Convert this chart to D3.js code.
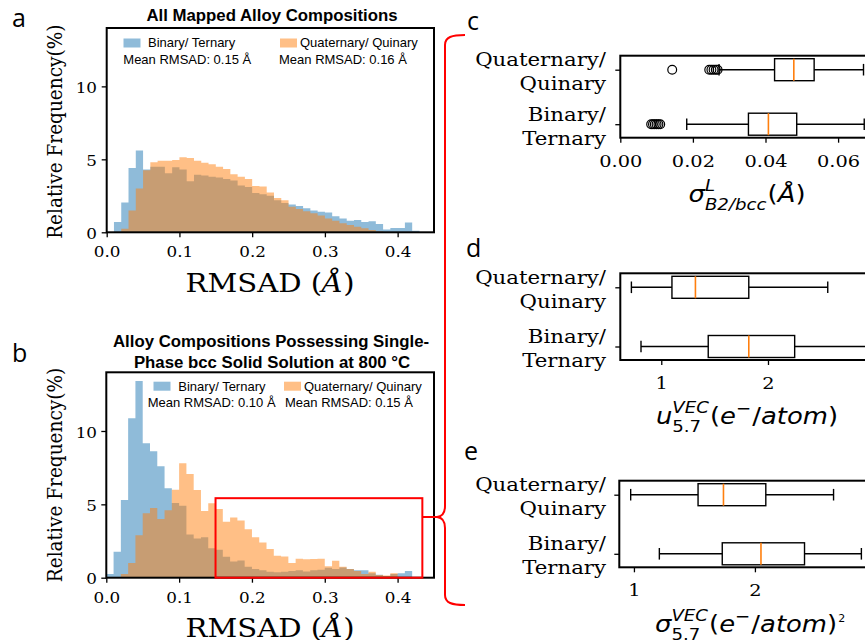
<!DOCTYPE html>
<html><head><meta charset="utf-8">
<script src="https://cdn.jsdelivr.net/npm/d3@7"></script>
<style>body{margin:0;background:#fff} svg{display:block}</style>
</head><body>
<svg id="chart" width="865" height="640"></svg>
<script>
// ---------------- DATA ----------------
const binStarts = [0.00,0.01,0.02,0.03,0.04,0.05,0.06,0.07,0.08,0.09,0.10,0.11,0.12,0.13,0.14,0.15,0.16,0.17,0.18,0.19,0.20,0.21,0.22,0.23,0.24,0.25,0.26,0.27,0.28,0.29,0.30,0.31,0.32,0.33,0.34,0.35,0.36,0.37,0.38,0.39,0.40,0.41,0.42];
const binWidth = 0.01;
// panel a: all mapped alloy compositions (relative frequency %)
const allBinaryTernary = [0,0.7,2.05,4.4,5.6,4.3,4.5,4.5,4.05,4.45,4.3,3.5,3.95,3.9,3.8,3.75,3.65,3.55,3.2,3.1,2.7,2.6,2.5,2.2,2.0,1.9,1.8,1.65,1.5,1.4,1.35,1.1,0.95,0.8,0.85,0.7,0.75,0.57,0.2,0.3,0.3,0.68,0.1];
const allQuatQuin = [0,0,0.25,1.5,3.0,4.25,4.8,4.9,4.9,4.95,5.15,5.1,4.9,4.77,4.66,4.5,4.34,3.97,3.8,3.65,3.17,3.13,2.72,2.35,2.2,1.75,1.6,1.45,1.3,1.15,0.95,0.8,0.62,0.5,0.38,0.28,0.15,0.05,0,0,0,0,0];
// panel b: single-phase bcc at 800 °C
const bccBinaryTernary = [0.25,1.77,5.3,10.86,13.4,9.16,8.62,7.6,6.1,5.1,4.9,2.95,2.68,2.75,2.0,1.9,1.43,1.1,1.18,0.75,0.6,0.5,0.4,0.38,0.4,0.45,0.5,0.42,0.5,0.55,0.68,0.6,0.7,0.6,0.5,0.5,0.3,0.2,0.12,0.25,0.3,0.45,0];
const bccQuatQuin = [0,0,0.25,1.0,2.9,4.4,4.75,4.0,4.6,6.0,7.8,7.07,5.98,4.55,5.07,4.68,3.82,4.1,3.9,3.3,2.75,2.4,1.95,1.5,1.45,1.0,1.3,1.25,1.28,1.3,0.78,1.15,0.75,0.6,0.45,0.25,0.4,0.18,0.15,0.3,0.05,0,0];
const rmsadTicks = [0.0,0.1,0.2,0.3,0.4];
const freqTicks = [0,5,10];
const seriesNames = ["Binary/ Ternary","Quaternary/ Quinary"];
const meanA = ["Mean RMSAD: 0.15 Å","Mean RMSAD: 0.16 Å"];
const meanB = ["Mean RMSAD: 0.10 Å","Mean RMSAD: 0.15 Å"];
const highlightBox = [0.15, 0.434, 0, 5.42]; // x0, x1, y0, y1 in panel b data units

// box plots: [whiskerLow, q1, median, q3, whiskerHigh]; order = [Quaternary/Quinary, Binary/Ternary]
const boxCategories = [["Quaternary/","Quinary"],["Binary/","Ternary"]];
const cStats = [[0.0272,0.0425,0.0478,0.0534,0.0670],[0.0183,0.0353,0.0408,0.0486,0.0672]];
const cOutliers = [[0.0143,0.0245,0.0251,0.0257,0.0263,0.0268],[0.0085,0.0090,0.0095,0.0100,0.0105,0.0110]];
const cTicks = [0.00,0.02,0.04,0.06];
const dStats = [[0.72,1.10,1.32,1.82,2.56],[0.81,1.44,1.82,2.25,2.94]];
const dOutliers = [[],[]];
const dTicks = [1,2];
const eStats = [[0.973,1.53,1.74,2.09,2.65],[1.21,1.73,2.05,2.41,2.88]];
const eOutliers = [[],[]];
const eTicks = [1,2];

// ---------------- DRAW ----------------
const svg = d3.select("#chart");
const C_BLUE = "#1f77b4", C_ORANGE = "#ff7f0e", RED = "#ff0000";
const SX = 1.12;            // horizontal text stretch of the reference figure
const SERIF = "'DejaVu Serif', serif";
const SANS = "'Liberation Sans', Arial, sans-serif";
const MATH = "'DejaVu Sans', sans-serif";

function txt(parent, x, y, s, o = {}) {
  const g = parent.append("g").attr("transform",
    `translate(${x},${y}) scale(${o.sx || 1},1)` + (o.rotate ? ` rotate(${o.rotate})` : ""));
  return g.append("text").text(s)
    .attr("font-family", o.family || SERIF).attr("font-size", o.size || 15)
    .attr("font-weight", o.weight || "normal").attr("font-style", o.style || "normal")
    .attr("text-anchor", o.anchor || "start").attr("fill", o.fill || "#000");
}

function histPanel(cfg) {
  const x = d3.scaleLinear().domain([0, 0.45]).range([cfg.left, cfg.right]);
  const y = d3.scaleLinear().domain([0, 14]).range([cfg.bottom, cfg.top]);
  const area = d3.area().curve(d3.curveStepAfter).x(d => x(d[0])).y0(y(0)).y1(d => y(d[1]));
  [[cfg.blue, C_BLUE], [cfg.orange, C_ORANGE]].forEach(([vals, col]) => {
    const pts = binStarts.map((b, i) => [b, vals[i]]);
    pts.push([binStarts[binStarts.length - 1] + binWidth, vals[vals.length - 1]]);
    svg.append("path").attr("d", area(pts)).attr("fill", col).attr("fill-opacity", 0.5);
  });
  const gx = svg.append("g").attr("transform", `translate(0,${cfg.bottom})`)
    .call(d3.axisBottom(x).tickValues(rmsadTicks).tickFormat(d3.format(".1f")).tickSize(5).tickSizeOuter(0));
  gx.select(".domain").remove();
  gx.selectAll(".tick line").attr("stroke", "#000").attr("stroke-width", 1.3);
  gx.selectAll(".tick text").attr("font-family", SERIF).attr("font-size", 15).attr("fill", "#000")
    .attr("dy", null).attr("y", cfg.xtickBase - cfg.bottom).attr("transform", `scale(${SX},1)`);
  const gy = svg.append("g").attr("transform", `translate(${cfg.left},0)`)
    .call(d3.axisLeft(y).tickValues(freqTicks).tickSize(5).tickSizeOuter(0));
  gy.select(".domain").remove();
  gy.selectAll(".tick line").attr("stroke", "#000").attr("stroke-width", 1.3);
  gy.selectAll(".tick text").attr("font-family", SERIF).attr("font-size", 15).attr("fill", "#000")
    .attr("dy", null).attr("y", 6.2).attr("x", -(cfg.left - 97) / SX).attr("transform", `scale(${SX},1)`);
  svg.append("rect").attr("x", cfg.left).attr("y", cfg.top).attr("width", cfg.right - cfg.left)
    .attr("height", cfg.bottom - cfg.top).attr("fill", "none").attr("stroke", "#000").attr("stroke-width", 2);
  // x label
  const g = svg.append("g").attr("transform", `translate(270,${cfg.xlabelBase}) scale(${SX},1)`);
  const t = g.append("text").attr("font-family", SERIF).attr("font-size", 26).attr("text-anchor", "middle").attr("fill", "#000");
  t.append("tspan").text("RMSAD (");
  t.append("tspan").attr("font-style", "italic").text("Å");
  t.append("tspan").text(")");
  // y label
  txt(svg, 62, cfg.ylabelMid, "Relative Frequency(%)", { size: 18.5, sx: SX, rotate: -90, anchor: "middle" });
  // legend
  const lg = cfg.legend;
  svg.append("rect").attr("x", lg.bx).attr("y", lg.py).attr("width", 17).attr("height", 9)
    .attr("fill", C_BLUE).attr("fill-opacity", 0.5);
  svg.append("rect").attr("x", lg.ox).attr("y", lg.py).attr("width", 17).attr("height", 9)
    .attr("fill", C_ORANGE).attr("fill-opacity", 0.5);
  txt(svg, lg.btx, lg.r1, seriesNames[0], { family: SANS, size: 13 });
  txt(svg, lg.otx, lg.r1, seriesNames[1], { family: SANS, size: 13 });
  txt(svg, lg.bmx, lg.r2, cfg.means[0], { family: SANS, size: 13 });
  txt(svg, lg.omx, lg.r2, cfg.means[1], { family: SANS, size: 13 });
  return { x, y };
}

// Panel a
histPanel({
  left: 106.7, right: 434, top: 28, bottom: 232.3,
  blue: allBinaryTernary, orange: allQuatQuin, means: meanA,
  xtickBase: 256.7, xlabelBase: 292.4, ylabelMid: 131.7,
  legend: { bx: 123.5, ox: 280, py: 38.5, btx: 148, otx: 300, r1: 47, bmx: 123.3, omx: 279, r2: 64.3 }
});
// Panel b
const pb = histPanel({
  left: 106.3, right: 434, top: 372.3, bottom: 577.7,
  blue: bccBinaryTernary, orange: bccQuatQuin, means: meanB,
  xtickBase: 602.7, xlabelBase: 637.4, ylabelMid: 475,
  legend: { bx: 153.5, ox: 284, py: 381.7, btx: 178.3, otx: 304, r1: 390.7, bmx: 147.7, omx: 285, r2: 406.7 }
});

// red highlight rectangle in b
svg.append("rect").attr("x", pb.x(highlightBox[0])).attr("y", pb.y(highlightBox[3]))
  .attr("width", pb.x(highlightBox[1]) - pb.x(highlightBox[0]))
  .attr("height", pb.y(highlightBox[2]) - pb.y(highlightBox[3]))
  .attr("fill", "none").attr("stroke", RED).attr("stroke-width", 2);

// titles
txt(svg, 272, 21, "All Mapped Alloy Compositions", { family: SANS, size: 16.8, weight: "bold", anchor: "middle" });
txt(svg, 271, 346.7, "Alloy Compositions Possessing Single-", { family: SANS, size: 16.8, weight: "bold", anchor: "middle" });
txt(svg, 272, 367.7, "Phase bcc Solid Solution at 800 °C", { family: SANS, size: 16.8, weight: "bold", anchor: "middle" });

// panel letters
const LET = "'Open Sans', sans-serif";
txt(svg, 12, 27, "a", { family: LET, size: 25 });
txt(svg, 12, 362, "b", { family: LET, size: 25 });
txt(svg, 467, 29.5, "c", { family: LET, size: 25 });
txt(svg, 466, 257, "d", { family: LET, size: 25 });
txt(svg, 464, 459.5, "e", { family: LET, size: 25 });

// bracket
svg.append("path")
  .attr("d", "M465,35 C452,35 445,37 445,45 L445,506 C445,513 442,516.5 437,517 C442,517.5 445,521 445,528 L445,595 C445,603 452,605 465,605")
  .attr("fill", "none").attr("stroke", RED).attr("stroke-width", 2);
svg.append("line").attr("x1", pb.x(highlightBox[1])).attr("x2", 438).attr("y1", 517).attr("y2", 517)
  .attr("stroke", RED).attr("stroke-width", 2);

// ---------------- BOX PLOTS ----------------
function boxPanel(cfg) {
  const x = d3.scaleLinear().domain(cfg.domain).range([cfg.left, cfg.right]);
  const y = d3.scalePoint().domain([0, 1]).range([cfg.top + 14, cfg.bottom - 13.5]);
  const hh = 11, cap = 5.8;
  cfg.stats.forEach((s, i) => {
    const cy = y(i);
    const g = svg.append("g").attr("stroke", "#000").attr("stroke-width", 1.4).attr("fill", "none");
    g.append("line").attr("x1", x(s[0])).attr("x2", x(s[1])).attr("y1", cy).attr("y2", cy);
    g.append("line").attr("x1", x(s[3])).attr("x2", x(s[4])).attr("y1", cy).attr("y2", cy);
    g.append("line").attr("x1", x(s[0])).attr("x2", x(s[0])).attr("y1", cy - cap).attr("y2", cy + cap);
    g.append("line").attr("x1", x(s[4])).attr("x2", x(s[4])).attr("y1", cy - cap).attr("y2", cy + cap);
    g.append("rect").attr("x", x(s[1])).attr("y", cy - hh).attr("width", x(s[3]) - x(s[1])).attr("height", 2 * hh);
    svg.append("line").attr("x1", x(s[2])).attr("x2", x(s[2])).attr("y1", cy - hh).attr("y2", cy + hh)
      .attr("stroke", C_ORANGE).attr("stroke-width", 1.6);
    cfg.outliers[i].forEach(v => {
      svg.append("circle").attr("cx", x(v)).attr("cy", cy).attr("r", 4.4)
        .attr("fill", "none").attr("stroke", "#000").attr("stroke-width", 1.2);
    });
    txt(svg, 606, cy - 3.5, boxCategories[i][0], { size: 19, sx: SX, anchor: "end" });
    txt(svg, 606, cy + 20.5, boxCategories[i][1], { size: 19, sx: SX, anchor: "end" });
  });
  const gx = svg.append("g").attr("transform", `translate(0,${cfg.bottom})`)
    .call(d3.axisBottom(x).tickValues(cfg.ticks).tickFormat(cfg.fmt).tickSize(5).tickSizeOuter(0));
  gx.select(".domain").remove();
  gx.selectAll(".tick line").attr("stroke", "#000").attr("stroke-width", 1.3);
  gx.selectAll(".tick text").attr("font-family", SERIF).attr("font-size", 17.3).attr("fill", "#000")
    .attr("dy", null).attr("y", cfg.tickBase - cfg.bottom).attr("transform", `scale(${SX},1)`);
  const gy = svg.append("g").attr("transform", `translate(${cfg.left},0)`)
    .call(d3.axisLeft(y).tickFormat("").tickSize(5).tickSizeOuter(0));
  gy.select(".domain").remove();
  gy.selectAll(".tick line").attr("stroke", "#000").attr("stroke-width", 1.3);
  svg.append("rect").attr("x", cfg.left).attr("y", cfg.top).attr("width", cfg.right - cfg.left)
    .attr("height", cfg.bottom - cfg.top).attr("fill", "none").attr("stroke", "#000").attr("stroke-width", 2);
}

boxPanel({ left: 620.3, right: 874.4, top: 55.7, bottom: 137.7, domain: [0, 0.07],
  stats: cStats, outliers: cOutliers, ticks: cTicks, fmt: d3.format(".2f"), tickBase: 166.7 });
boxPanel({ left: 620.3, right: 874.7, top: 273.3, bottom: 360, domain: [0.616, 3.0],
  stats: dStats, outliers: dOutliers, ticks: dTicks, fmt: d3.format("d"), tickBase: 389.5 });
boxPanel({ left: 619.3, right: 875.9, top: 480.7, bottom: 567.3, domain: [0.879, 3.0],
  stats: eStats, outliers: eOutliers, ticks: eTicks, fmt: d3.format("d"), tickBase: 596.5 });

// math axis labels
function mathLabel(x0, baseline, parts, o) {
  const MS = 23.5, SS = 16.5, sx = 1.1;
  const g = svg.append("g");
  const inner = g.append("g");
  let x = 0;
  const mk = (s, xx, yy, size, it) => inner.append("text").text(s).attr("x", xx).attr("y", yy)
    .attr("font-family", MATH).attr("font-size", size).attr("font-style", it ? "italic" : "normal").attr("fill", "#000");
  parts.forEach(p => {
    if (p.t !== undefined) {
      const t = mk(p.t, x + (p.dx || 0), p.dy || 0, p.size || MS, p.it);
      x += t.node().getComputedTextLength();
    } else {
      let w = 0;
      const stacked = p.sup !== undefined && p.sub !== undefined;
      if (p.sup !== undefined) {
        const t = mk(p.sup, x, stacked ? -11 : -10, SS, p.supIt);
        w = Math.max(w, t.node().getComputedTextLength());
      }
      if (p.sub !== undefined) {
        const t = mk(p.sub, x, stacked ? 8 : 7, SS, p.subIt);
        w = Math.max(w, t.node().getComputedTextLength());
      }
      x += w + 1;
    }
  });
  const start = o.center !== undefined ? o.center - x * sx / 2 : x0;
  g.attr("transform", `translate(${start},${baseline}) scale(${sx},1)`);
}
mathLabel(null, 201.5, [
  { t: "σ", it: true }, { sup: "L", supIt: true, sub: "B2/bcc", subIt: true },
  { t: "(" }, { t: "Å", it: true }, { t: ")" }
], { center: 747 });
mathLabel(null, 424, [
  { t: "u", it: true }, { sup: "VEC", supIt: true, sub: "5.7" },
  { t: "(" }, { t: "e", it: true }, { sup: "−" }, { t: "/" }, { t: "atom", it: true }, { t: ")" }
], { center: 747 });
mathLabel(655, 632, [
  { t: "σ", it: true }, { sup: "VEC", supIt: true, sub: "5.7" },
  { t: "(" }, { t: "e", it: true }, { sup: "−" }, { t: "/" }, { t: "atom", it: true }, { t: ")" },
  { t: "2", size: 10, dy: -10, dx: 1 }
], {});
</script>
</body></html>
